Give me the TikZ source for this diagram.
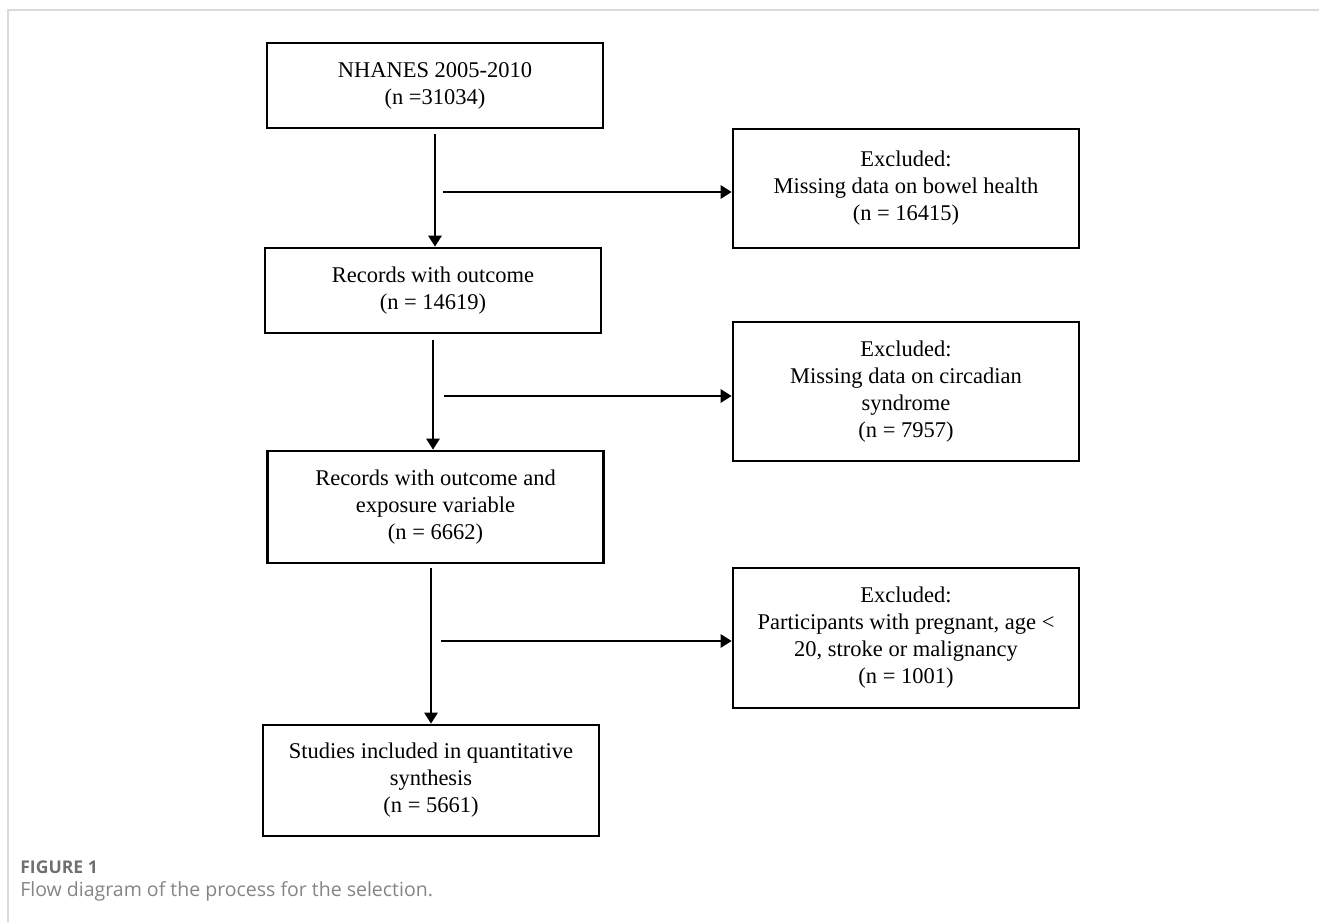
\documentclass[tikz,border=0pt]{standalone}
\usepackage{fontspec}
\setmainfont{Liberation Serif}
\newfontfamily\capfont{Open Sans}
\usetikzlibrary{positioning,arrows.meta}
\definecolor{framegray}{HTML}{DADADA}
\definecolor{capgray}{HTML}{707072}
\tikzset{
  stage/.style={draw,line width=1.5pt,align=center,inner sep=2pt,
    font=\fontsize{12.8}{15.4}\selectfont},
  flowbox/.style={stage,minimum width=6.72cm},
  exclbox/.style={stage,minimum width=6.92cm},
  arr/.style={line width=1.5pt,-{Triangle[length=0.22cm,width=0.26cm]}}
}
\begin{document}
\begin{tikzpicture}[x=0.02cm,y=-0.02cm]
  \useasboundingbox (0,0) rectangle (1319,922);
  \draw[framegray,line width=1.5pt] (8,922) -- (8,10) -- (1319,10);
  % main column
  \node[flowbox,minimum height=1.7cm] (nhanes) at (435,85.5) {NHANES 2005-2010\\(n =31034)};
  \node[flowbox,minimum height=1.7cm] (outcome) at (433,290.5) {Records with outcome\\(n = 14619)};
  \node[flowbox,minimum height=2.24cm] (exposure) at (435.5,507) {Records with outcome and\\exposure variable\\(n = 6662)};
  \node[flowbox,minimum height=2.22cm] (studies) at (431,780.5) {Studies included in quantitative\\synthesis\\(n = 5661)};
  % exclusions
  \node[exclbox,minimum height=2.38cm] (bowel) at (906,188.5) {Excluded:\\Missing data on bowel health\\(n = 16415)};
  \node[exclbox,minimum height=2.78cm] (circadian) at (906,391.5) {Excluded:\\Missing data on circadian\\syndrome\\(n = 7957)};
  \node[exclbox,minimum height=2.8cm] (pregnant) at (906,638) {Excluded:\\Participants with pregnant, age <\\20, stroke or malignancy\\(n = 1001)};
  \draw[arr] ([yshift=-0.1cm]nhanes.south) -- (nhanes.south |- outcome.north);
  \draw[arr] ([yshift=-0.12cm]outcome.south) -- (outcome.south |- exposure.north);
  \draw[arr] ([yshift=-0.08cm]exposure.south -| studies.north) -- (studies.north);
  \draw[arr] ([xshift=0.16cm,yshift=-0.07cm]bowel.west -| nhanes.south) -- ([yshift=-0.07cm]bowel.west);
  \draw[arr] ([xshift=0.22cm,yshift=-0.09cm]circadian.west -| outcome.south) -- ([yshift=-0.09cm]circadian.west);
  \draw[arr] ([xshift=0.2cm,yshift=-0.06cm]pregnant.west -| studies.north) -- ([yshift=-0.06cm]pregnant.west);
  % caption
  \node[anchor=base west,inner sep=0pt,text=capgray,font=\capfont\bfseries\fontsize{10}{12}\selectfont] (figlabel) at (20,873) {FIGURE 1};
  \node[anchor=base west,inner sep=0pt,text=capgray!85,font=\capfont\fontsize{11.1}{13}\selectfont] (figcaption) at (20,896) {Flow diagram of the process for the selection.};
\end{tikzpicture}
\end{document}
